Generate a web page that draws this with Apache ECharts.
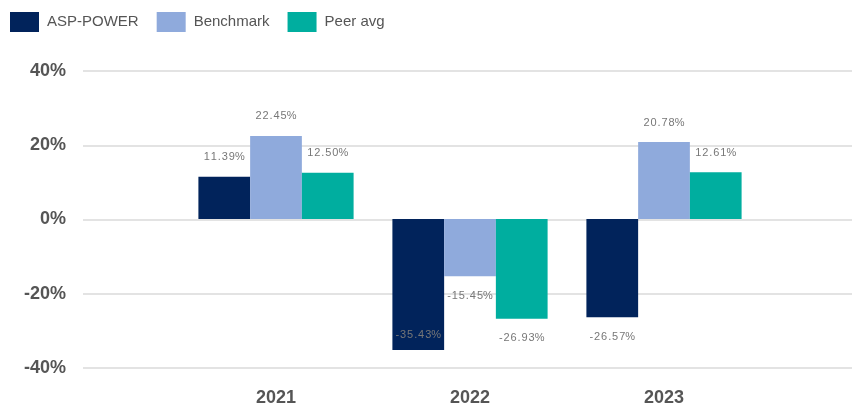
<!DOCTYPE html>
<html>
<head>
<meta charset="utf-8">
<script src="https://cdn.jsdelivr.net/npm/echarts@6/dist/echarts.min.js"></script>
<style>html,body{margin:0;padding:0;background:#fff;}#c{width:852px;height:407px;}</style>
</head>
<body>
<div id="c"></div>
<script>
var categories = ['2021', '2022', '2023'];
var aspPower = [11.39, -35.43, -26.57];
var benchmark = [22.45, -15.45, 20.78];
var peerAvg = [12.50, -26.93, 12.61];
var yTicks = [-40, -20, 0, 20, 40];

var chart = echarts.init(document.getElementById('c'));
var font = 'Arial, "Liberation Sans", sans-serif';

function labelFor(v) {
  var lbl = {
    show: true,
    position: v >= 0 ? 'top' : 'bottom',
    distance: 14,
    color: '#777',
    fontSize: 11,
    fontFamily: font,
    formatter: function (p) { return p.value.toFixed(2).split('').join('\u200A') + '%'; }
  };
  if (v < -32) { lbl.position = 'insideBottom'; lbl.distance = 10; }
  return lbl;
}
function mk(arr) {
  return arr.map(function (v) { return { value: v, label: labelFor(v) }; });
}

chart.setOption({
  animation: false,
  legend: {
    left: 5, top: 7,
    icon: 'rect',
    itemWidth: 29, itemHeight: 20, itemGap: 18,
    textStyle: { color: '#555', fontSize: 15, fontFamily: font, padding: [0, 0, 0, 3] },
    data: ['ASP-POWER', 'Benchmark', 'Peer avg']
  },
  grid: [
    { left: 83, right: 0, top: 71, bottom: 39, containLabel: false },
    { left: 179, right: 91, top: 71, bottom: 39, containLabel: false }
  ],
  xAxis: [
    { gridIndex: 0, type: 'category', data: [''], show: false },
    {
      gridIndex: 1, type: 'category', data: categories,
      axisLine: { show: false }, axisTick: { show: false },
      axisLabel: { color: '#555', fontSize: 18, fontWeight: 'bold', fontFamily: font, margin: 22 }
    }
  ],
  yAxis: [
    {
      gridIndex: 0, type: 'value', min: -40, max: 40, interval: 20,
      axisLine: { show: false }, axisTick: { show: false },
      axisLabel: { color: '#555', fontSize: 18, fontWeight: 'bold', fontFamily: font, margin: 17, formatter: '{value}%' },
      splitLine: { lineStyle: { color: '#e3e3e3', width: 2 } }
    },
    {
      gridIndex: 1, type: 'value', min: -40, max: 40, interval: 20,
      show: false, splitLine: { show: false }
    }
  ],
  series: [
    { name: 'ASP-POWER', type: 'bar', xAxisIndex: 1, yAxisIndex: 1, data: mk(aspPower), barGap: '0%', barCategoryGap: '20%', itemStyle: { color: '#01235b' } },
    { name: 'Benchmark', type: 'bar', xAxisIndex: 1, yAxisIndex: 1, data: mk(benchmark), barGap: '0%', barCategoryGap: '20%', itemStyle: { color: '#8faadc' } },
    { name: 'Peer avg', type: 'bar', xAxisIndex: 1, yAxisIndex: 1, data: mk(peerAvg), barGap: '0%', barCategoryGap: '20%', itemStyle: { color: '#00ae9f' } }
  ]
});
</script>
</body>
</html>
